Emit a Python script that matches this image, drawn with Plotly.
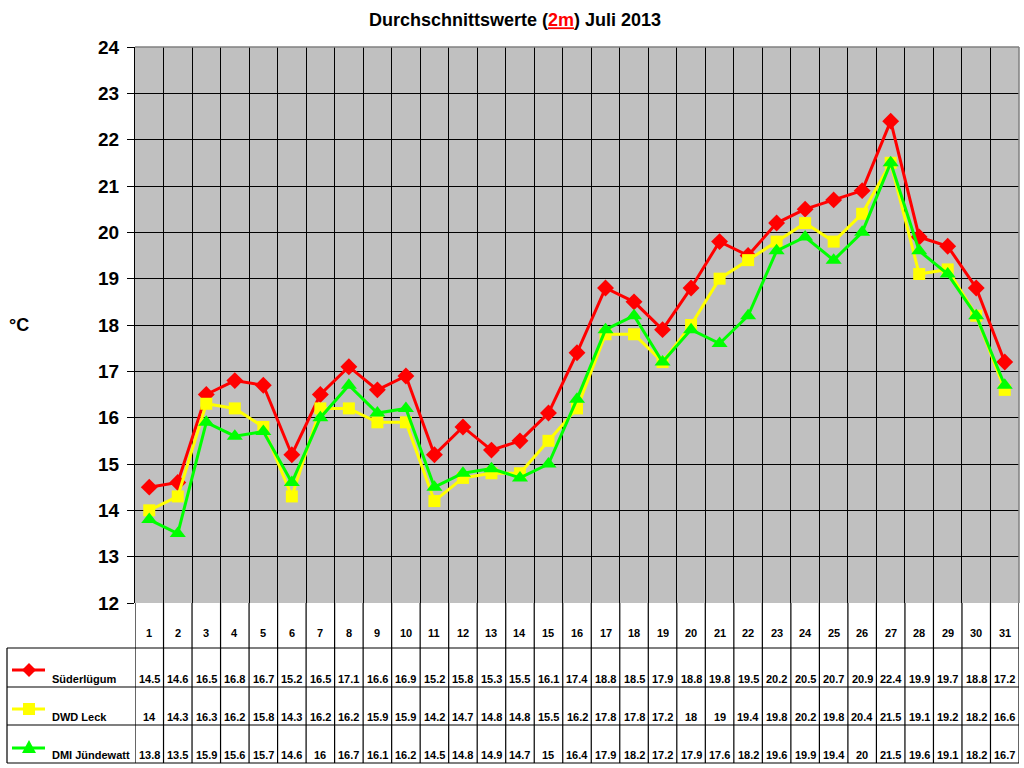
import plotly.graph_objects as go

days = list(range(1, 32))
day_labels = [str(d) for d in days]
series_names = ["Süderlügum", "DWD Leck", "DMI Jündewatt"]
suederluegum = [14.5, 14.6, 16.5, 16.8, 16.7, 15.2, 16.5, 17.1, 16.6, 16.9, 15.2, 15.8, 15.3, 15.5, 16.1,
                17.4, 18.8, 18.5, 17.9, 18.8, 19.8, 19.5, 20.2, 20.5, 20.7, 20.9, 22.4, 19.9, 19.7, 18.8, 17.2]
dwd_leck = [14, 14.3, 16.3, 16.2, 15.8, 14.3, 16.2, 16.2, 15.9, 15.9, 14.2, 14.7, 14.8, 14.8, 15.5,
            16.2, 17.8, 17.8, 17.2, 18, 19, 19.4, 19.8, 20.2, 19.8, 20.4, 21.5, 19.1, 19.2, 18.2, 16.6]
dmi_juendewatt = [13.8, 13.5, 15.9, 15.6, 15.7, 14.6, 16, 16.7, 16.1, 16.2, 14.5, 14.8, 14.9, 14.7, 15,
                  16.4, 17.9, 18.2, 17.2, 17.9, 17.6, 18.2, 19.6, 19.9, 19.4, 20, 21.5, 19.6, 19.1, 18.2, 16.7]
y_ticks = list(range(12, 25))
title_text = "Durchschnittswerte (<span style='color:#FF0000;text-decoration:underline'>2m</span>) Juli 2013"
y_title = "°C"

all_series = [suederluegum, dwd_leck, dmi_juendewatt]
colors = ["#FF0000", "#FFFF00", "#00FF00"]
symbols = ["diamond", "square", "triangle-up"]
msizes = [13, 12, 14]

W, H = 1024, 768
L, R, T, B = 135, 1019, 47, 603
FONT = "Liberation Sans, Arial, sans-serif"


def px(x):
    return (x - L) / (R - L)


def py(y):
    return (B - y) / (B - T)


fig = go.Figure()
for name, vals, c, s, ms in zip(series_names, all_series, colors, symbols, msizes):
    fig.add_trace(go.Scatter(x=days, y=vals, name=name, mode="lines+markers",
                             line=dict(color=c, width=3),
                             marker=dict(symbol=s, size=ms, color=c, line=dict(width=0)),
                             showlegend=False))

shapes = []
annotations = []

# table: horizontal lines
row_lines = [648, 687, 725, 763]
for yy in row_lines:
    shapes.append(dict(type="line", xref="paper", yref="paper", x0=px(7), x1=px(R), y0=py(yy), y1=py(yy),
                       line=dict(color="black", width=1.2)))
# left border of table
shapes.append(dict(type="line", xref="paper", yref="paper", x0=px(7), x1=px(7), y0=py(648), y1=py(763),
                   line=dict(color="black", width=1.2)))
# vertical lines in table area
for k in range(0, 32):
    xv = k + 0.5
    shapes.append(dict(type="line", xref="x", yref="paper", x0=xv, x1=xv, y0=py(B), y1=py(763),
                       line=dict(color="black", width=1.2)))
# plot border top & right (grey)
shapes.append(dict(type="line", xref="paper", yref="paper", x0=0, x1=1, y0=1, y1=1,
                   line=dict(color="#808080", width=1.5)))
shapes.append(dict(type="line", xref="paper", yref="paper", x0=1, x1=1, y0=0, y1=1,
                   line=dict(color="#808080", width=1.5)))

TS = 11
# header numbers
for d, lab in zip(days, day_labels):
    annotations.append(dict(x=d, y=py(633), xref="x", yref="paper", text=lab, showarrow=False,
                            font=dict(family=FONT, size=TS, color="black", weight="bold"),
                            xanchor="center", yanchor="middle"))

# rows
text_y = [679, 717, 755]
marker_y = [670, 709, 748]
for name, vals, c, s, ty, my in zip(series_names, all_series, colors, symbols, text_y, marker_y):
    for d, v in zip(days, vals):
        annotations.append(dict(x=d, y=py(ty), xref="x", yref="paper", text=f"{v:g}", showarrow=False,
                                font=dict(family=FONT, size=TS, color="black", weight="bold"),
                                xanchor="center", yanchor="middle"))
    annotations.append(dict(x=px(50), y=py(ty), xref="paper", yref="paper", text=name, showarrow=False,
                            font=dict(family=FONT, size=TS, color="black", weight="bold"),
                            xanchor="left", yanchor="middle"))
    # legend sample line
    shapes.append(dict(type="line", xref="paper", yref="paper", x0=px(12), x1=px(45), y0=py(my), y1=py(my),
                       line=dict(color=c, width=3)))
    cx, cy = 29, my
    if s == "diamond":
        pts = [(cx, cy - 7), (cx + 7, cy), (cx, cy + 7), (cx - 7, cy)]
    elif s == "square":
        pts = [(cx - 6, cy - 6), (cx + 6, cy - 6), (cx + 6, cy + 6), (cx - 6, cy + 6)]
    else:
        pts = [(cx, cy - 8), (cx + 7, cy + 5), (cx - 7, cy + 5)]
    path = "M " + " L ".join(f"{px(a):.5f},{py(b):.5f}" for a, b in pts) + " Z"
    shapes.append(dict(type="path", xref="paper", yref="paper", path=path,
                       fillcolor=c, line=dict(color=c, width=0)))

# y axis title
annotations.append(dict(x=px(19), y=py(325), xref="paper", yref="paper", text=y_title, showarrow=False,
                        font=dict(family=FONT, size=18, color="black", weight="bold"),
                        xanchor="center", yanchor="middle"))

fig.update_layout(
    width=W, height=H,
    margin=dict(l=L, r=W - R, t=T, b=H - B, pad=0),
    paper_bgcolor="white", plot_bgcolor="#C0C0C0",
    title=dict(text=title_text, x=515 / W, xanchor="center", y=1 - 20 / H, yanchor="middle",
               font=dict(family=FONT, size=18, color="black", weight="bold")),
    xaxis=dict(range=[0.5, 31.5], tickvals=[k + 0.5 for k in range(1, 31)], showticklabels=False,
               showgrid=True, gridcolor="black", gridwidth=1.2, ticks="", zeroline=False, showline=False),
    yaxis=dict(range=[12, 24], tickvals=y_ticks, ticktext=[str(t) for t in y_ticks],
               showgrid=True, gridcolor="black", gridwidth=1.2, ticks="outside", ticklen=7,
               tickcolor="black", tickwidth=1.2, showline=True, linecolor="black", linewidth=1.2,
               tickfont=dict(family=FONT, size=19, color="black", weight="bold"), zeroline=False,
               ticklabelstandoff=4),
    shapes=shapes, annotations=annotations,
)

fig.write_html("out.html", config={"displayModeBar": False},
               post_script="document.body.style.margin='0';")
